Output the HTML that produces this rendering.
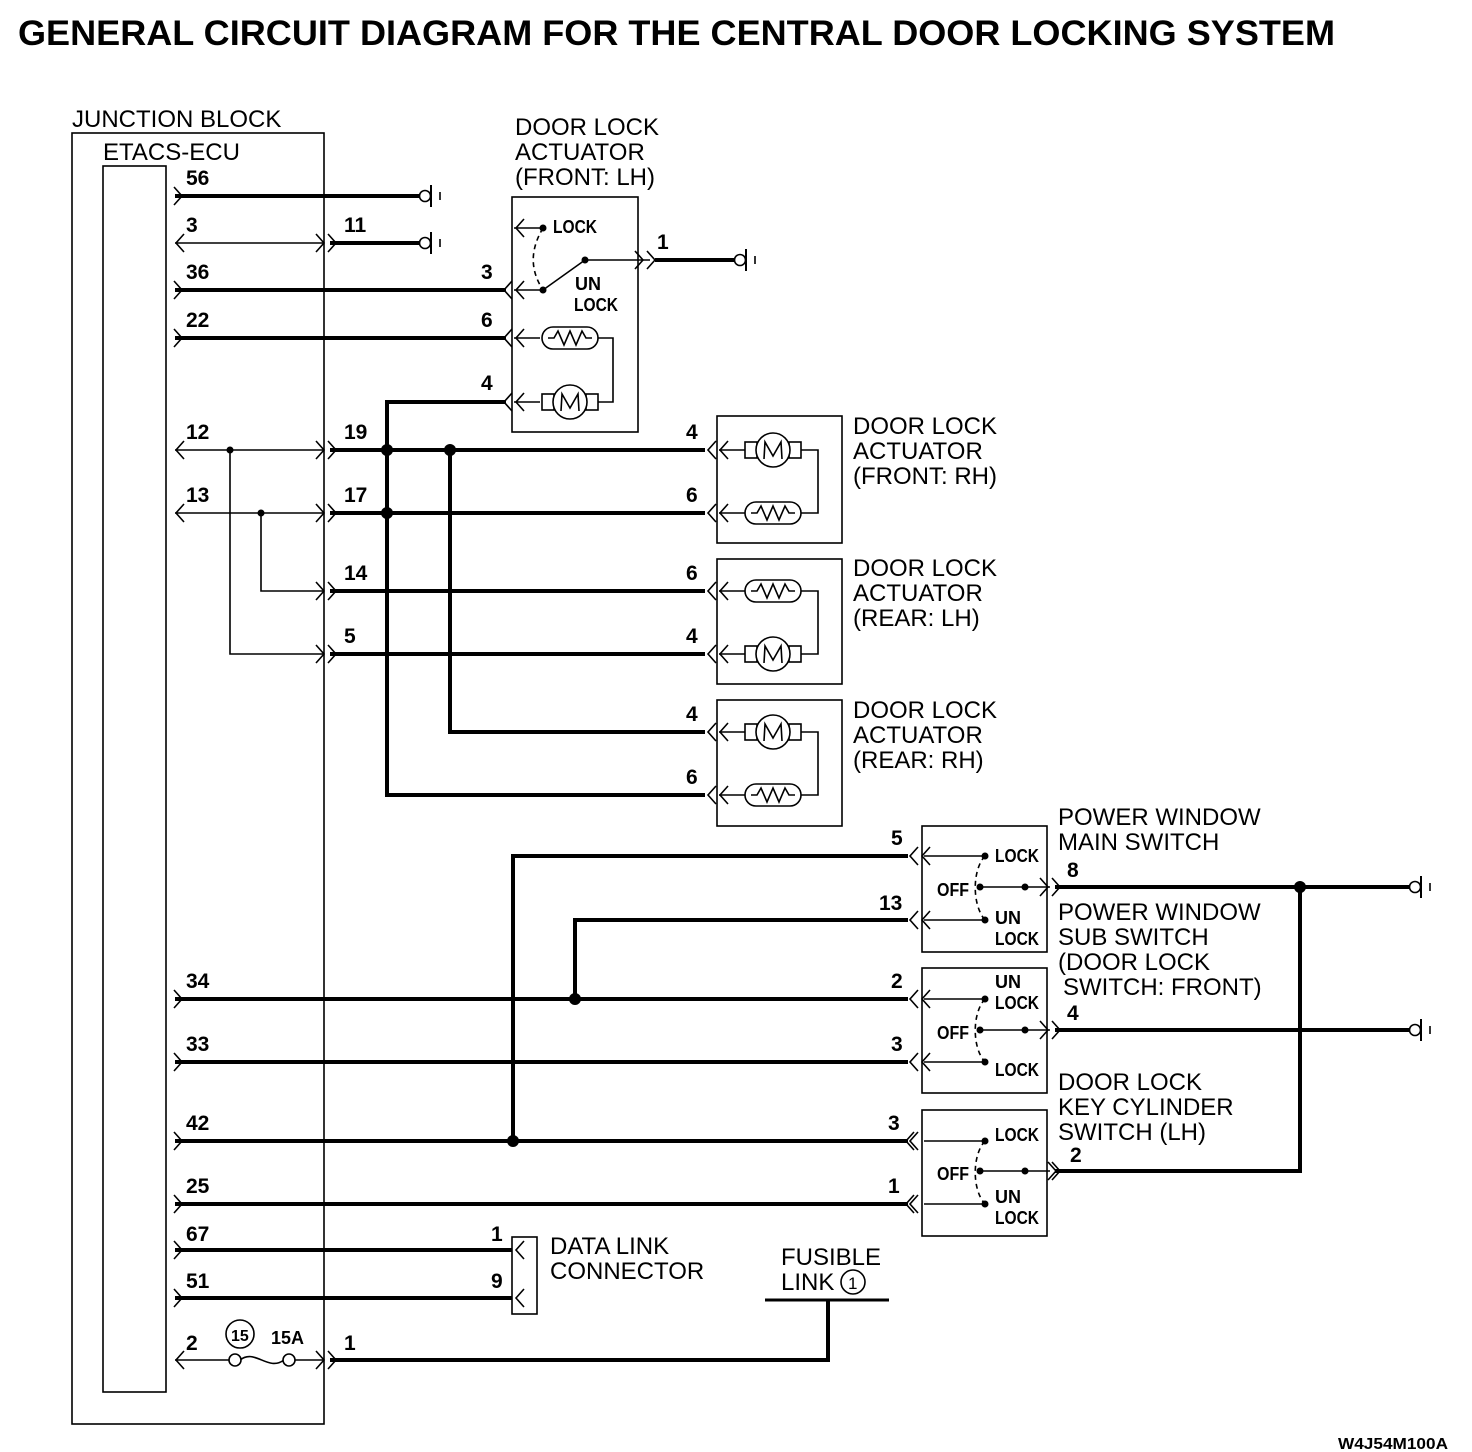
<!DOCTYPE html>
<html><head><meta charset="utf-8"><style>
html,body{margin:0;padding:0;background:#fff}
svg{display:block}
text{font-family:"Liberation Sans",sans-serif;fill:#000}
.t{font-size:24px}
.n{font-size:21px;font-weight:bold}
.s{font-size:18px;font-weight:bold}
</style></head><body>
<svg width="1472" height="1452" viewBox="0 0 1472 1452" xmlns="http://www.w3.org/2000/svg">
<defs>
<path id="m" d="M-6,-9 L2,0 L-6,9" fill="none" stroke="#000" stroke-width="1.6"/>
<path id="f" d="M6,-9 L-2,0 L6,9" fill="none" stroke="#000" stroke-width="1.6"/>
<g id="g" fill="none" stroke="#000" stroke-width="1.6"><circle cx="5" cy="0" r="5.5" fill="#fff"/><line x1="11" y1="-11" x2="11" y2="11" stroke-width="2"/><line x1="20" y1="-4" x2="20" y2="4"/></g>
<g id="mot" fill="none" stroke="#000" stroke-width="1.6"><rect x="0" y="-8" width="12" height="16" fill="#fff"/><rect x="44" y="-8" width="12" height="16" fill="#fff"/><circle cx="28" cy="0" r="17" fill="#fff"/><path d="M19,9 L20,-8 L28,6 L36,-8 L37,9"/></g>
<g id="res" fill="none" stroke="#000" stroke-width="1.6"><rect x="0" y="-11" width="56" height="22" rx="11" fill="#fff"/><path d="M6,0 L12,0 L16,-7 L22,7 L28,-7 L34,7 L40,-7 L44,0 L50,0"/></g>
</defs>
<text x="18" y="45" textLength="1317" lengthAdjust="spacingAndGlyphs" style="font-size:35px;font-weight:bold">GENERAL CIRCUIT DIAGRAM FOR THE CENTRAL DOOR LOCKING SYSTEM</text>
<g fill="none" stroke="#000" stroke-width="1.6">
<rect x="72" y="133" width="252" height="1291"/>
<rect x="103" y="166" width="63" height="1226"/>
<rect x="512" y="197" width="126" height="235"/>
<rect x="717" y="416" width="125" height="127"/>
<rect x="717" y="559" width="125" height="125"/>
<rect x="717" y="700" width="125" height="126"/>
<rect x="922" y="826" width="125" height="126"/>
<rect x="922" y="968" width="125" height="125"/>
<rect x="922" y="1110" width="125" height="126"/>
<rect x="512" y="1237" width="25" height="77"/>
</g>
<text class="t" x="72" y="127">JUNCTION BLOCK</text>
<text class="t" x="103" y="160">ETACS-ECU</text>
<g fill="none" stroke="#000" stroke-width="4">
<path d="M175,196 H420"/>
<path d="M330,243 H420"/>
<path d="M175,290 H506"/>
<path d="M175,338 H506"/>
<path d="M506,402 H387 V795 H705"/>
<path d="M330,450 H705"/>
<path d="M330,513 H705"/>
<path d="M330,591 H705"/>
<path d="M330,654 H705"/>
<path d="M450,450 V732 H705"/>
<path d="M655,260 H735"/>
<path d="M908,856 H513 V1141"/>
<path d="M908,920 H575 V999"/>
<path d="M175,999 H908"/>
<path d="M175,1062 H908"/>
<path d="M175,1141 H908"/>
<path d="M175,1204 H908"/>
<path d="M1055,887 H1420"/>
<path d="M1055,1030 H1420"/>
<path d="M1055,1171 H1300 V887"/>
<path d="M175,1250 H512"/>
<path d="M175,1298 H512"/>
<path d="M330,1360 H828 V1300"/>
<path d="M765,1300 H889" stroke-width="3"/>
</g>
<g fill="none" stroke="#000" stroke-width="1.6">
<path d="M175,243 H324"/>
<path d="M175,450 H324"/>
<path d="M175,513 H324"/>
<path d="M261,513 V591 H324"/>
<path d="M230,450 V654 H324"/>
<path d="M175,1360 H230 M294,1360 H324"/>
<path d="M240,1360 C255,1348 268,1372 284,1360"/>
<path d="M514,228 H543"/>
<path d="M514,290 H543 L585,260 H650"/>
<path d="M543,228 C530,250 530,270 543,290" stroke-dasharray="5,4"/>
<path d="M514,338 H540 M598,338 H613 V402 H598 M514,402 H540"/>
<path d="M719,450 H745 M801,450 H818 V513 H801 M719,513 H745"/>
<path d="M719,591 H745 M801,591 H818 V654 H801 M719,654 H745"/>
<path d="M719,732 H745 M801,732 H818 V795 H801 M719,795 H745"/>
<path d="M924,856 H985 M924,920 H985 M980,887 H1050"/>
<path d="M985,856 C972,870 972,905 985,920" stroke-dasharray="5,4"/>
<path d="M924,999 H985 M924,1062 H985 M980,1030 H1050"/>
<path d="M985,999 C972,1013 972,1048 985,1062" stroke-dasharray="5,4"/>
<path d="M924,1141 H985 M924,1204 H985 M980,1171 H1050"/>
<path d="M985,1141 C972,1155 972,1190 985,1204" stroke-dasharray="5,4"/>
<circle cx="235" cy="1360" r="6" fill="#fff"/>
<circle cx="289" cy="1360" r="6" fill="#fff"/>
<circle cx="240" cy="1334" r="14"/>
<circle cx="853" cy="1282" r="12"/>
</g>
<use href="#res" x="542" y="338"/><use href="#mot" x="542" y="402"/>
<use href="#mot" x="745" y="450"/><use href="#res" x="745" y="513"/>
<use href="#res" x="745" y="591"/><use href="#mot" x="745" y="654"/>
<use href="#mot" x="745" y="732"/><use href="#res" x="745" y="795"/>
<use href="#g" x="420" y="196"/><use href="#g" x="420" y="243"/><use href="#g" x="735" y="260"/>
<use href="#g" x="1410" y="887"/><use href="#g" x="1410" y="1030"/>
<g>
<use href="#m" x="180" y="196"/><use href="#f" x="178" y="243"/><use href="#m" x="322" y="243"/><use href="#m" x="334" y="243"/>
<use href="#m" x="180" y="290"/><use href="#m" x="180" y="338"/>
<use href="#f" x="178" y="450"/><use href="#m" x="322" y="450"/><use href="#m" x="334" y="450"/>
<use href="#f" x="178" y="513"/><use href="#m" x="322" y="513"/><use href="#m" x="334" y="513"/>
<use href="#m" x="322" y="591"/><use href="#m" x="334" y="591"/>
<use href="#m" x="322" y="654"/><use href="#m" x="334" y="654"/>
<use href="#f" x="506" y="290"/><use href="#f" x="518" y="290"/><use href="#f" x="518" y="228"/>
<use href="#f" x="506" y="338"/><use href="#f" x="518" y="338"/>
<use href="#f" x="506" y="402"/><use href="#f" x="518" y="402"/>
<use href="#m" x="641" y="260"/><use href="#m" x="653" y="260"/>
<use href="#f" x="710" y="450"/><use href="#f" x="722" y="450"/><use href="#f" x="710" y="513"/><use href="#f" x="722" y="513"/>
<use href="#f" x="710" y="591"/><use href="#f" x="722" y="591"/><use href="#f" x="710" y="654"/><use href="#f" x="722" y="654"/>
<use href="#f" x="710" y="732"/><use href="#f" x="722" y="732"/><use href="#f" x="710" y="795"/><use href="#f" x="722" y="795"/>
<use href="#f" x="912" y="856"/><use href="#f" x="924" y="856"/><use href="#f" x="912" y="920"/><use href="#f" x="924" y="920"/>
<use href="#f" x="912" y="999"/><use href="#f" x="924" y="999"/><use href="#f" x="912" y="1062"/><use href="#f" x="924" y="1062"/>
<use href="#f" x="908" y="1141"/><use href="#f" x="912" y="1141"/><use href="#f" x="908" y="1204"/><use href="#f" x="912" y="1204"/>
<use href="#m" x="1046" y="887"/><use href="#m" x="1058" y="887"/>
<use href="#m" x="1046" y="1030"/><use href="#m" x="1058" y="1030"/>
<use href="#m" x="1054" y="1171"/><use href="#m" x="1058" y="1171"/>
<use href="#m" x="180" y="999"/><use href="#m" x="180" y="1062"/><use href="#m" x="180" y="1141"/><use href="#m" x="180" y="1204"/>
<use href="#m" x="180" y="1250"/><use href="#m" x="180" y="1298"/>
<use href="#f" x="518" y="1250"/><use href="#f" x="518" y="1298"/>
<use href="#f" x="178" y="1360"/><use href="#m" x="322" y="1360"/><use href="#m" x="334" y="1360"/>
</g>
<g fill="#000">
<circle cx="230" cy="450" r="3.5"/><circle cx="261" cy="513" r="3.5"/>
<circle cx="387" cy="450" r="6"/><circle cx="450" cy="450" r="6"/><circle cx="387" cy="513" r="6"/>
<circle cx="575" cy="999" r="6"/><circle cx="513" cy="1141" r="6"/><circle cx="1300" cy="887" r="6"/>
<circle cx="543" cy="228" r="3.5"/><circle cx="543" cy="290" r="3.5"/><circle cx="585" cy="260" r="3.5"/>
<circle cx="985" cy="856" r="3.5"/><circle cx="985" cy="920" r="3.5"/><circle cx="980" cy="887" r="3.5"/><circle cx="1025" cy="887" r="3.5"/>
<circle cx="985" cy="999" r="3.5"/><circle cx="985" cy="1062" r="3.5"/><circle cx="980" cy="1030" r="3.5"/><circle cx="1025" cy="1030" r="3.5"/>
<circle cx="985" cy="1141" r="3.5"/><circle cx="985" cy="1204" r="3.5"/><circle cx="980" cy="1171" r="3.5"/><circle cx="1025" cy="1171" r="3.5"/>
</g>
<g>
<text class="n" x="186" y="185">56</text><text class="n" x="186" y="232">3</text><text class="n" x="344" y="232">11</text>
<text class="n" x="186" y="279">36</text><text class="n" x="186" y="327">22</text>
<text class="n" x="481" y="279">3</text><text class="n" x="481" y="327">6</text><text class="n" x="481" y="390">4</text><text class="n" x="657" y="249">1</text>
<text class="n" x="186" y="439">12</text><text class="n" x="344" y="439">19</text>
<text class="n" x="186" y="502">13</text><text class="n" x="344" y="502">17</text>
<text class="n" x="344" y="580">14</text><text class="n" x="344" y="643">5</text>
<text class="n" x="686" y="439">4</text><text class="n" x="686" y="502">6</text>
<text class="n" x="686" y="580">6</text><text class="n" x="686" y="643">4</text>
<text class="n" x="686" y="721">4</text><text class="n" x="686" y="784">6</text>
<text class="n" x="891" y="845">5</text><text class="n" x="879" y="910">13</text>
<text class="n" x="891" y="988">2</text><text class="n" x="891" y="1051">3</text>
<text class="n" x="888" y="1130">3</text><text class="n" x="888" y="1193">1</text>
<text class="n" x="1067" y="877">8</text><text class="n" x="1067" y="1020">4</text><text class="n" x="1070" y="1162">2</text>
<text class="n" x="186" y="988">34</text><text class="n" x="186" y="1051">33</text><text class="n" x="186" y="1130">42</text><text class="n" x="186" y="1193">25</text>
<text class="n" x="186" y="1241">67</text><text class="n" x="186" y="1288">51</text>
<text class="n" x="491" y="1241">1</text><text class="n" x="491" y="1288">9</text>
<text class="n" x="186" y="1350">2</text><text class="n" x="344" y="1350">1</text>
<text class="n" x="271" y="1344" style="font-size:18px">15A</text>
<text class="n" x="231" y="1341" style="font-size:16px">15</text>
<text class="n" x="848" y="1289" style="font-size:17px;font-weight:normal">1</text>
</g>
<g>
<text class="s" x="553" y="233" textLength="44" lengthAdjust="spacingAndGlyphs">LOCK</text><text class="s" x="575" y="290">UN</text><text class="s" x="574" y="311" textLength="44" lengthAdjust="spacingAndGlyphs">LOCK</text>
<text class="s" x="995" y="862" textLength="44" lengthAdjust="spacingAndGlyphs">LOCK</text><text class="s" x="937" y="896" textLength="32" lengthAdjust="spacingAndGlyphs">OFF</text><text class="s" x="995" y="924">UN</text><text class="s" x="995" y="945" textLength="44" lengthAdjust="spacingAndGlyphs">LOCK</text>
<text class="s" x="995" y="988">UN</text><text class="s" x="995" y="1009" textLength="44" lengthAdjust="spacingAndGlyphs">LOCK</text><text class="s" x="937" y="1039" textLength="32" lengthAdjust="spacingAndGlyphs">OFF</text><text class="s" x="995" y="1076" textLength="44" lengthAdjust="spacingAndGlyphs">LOCK</text>
<text class="s" x="995" y="1141" textLength="44" lengthAdjust="spacingAndGlyphs">LOCK</text><text class="s" x="937" y="1180" textLength="32" lengthAdjust="spacingAndGlyphs">OFF</text><text class="s" x="995" y="1203">UN</text><text class="s" x="995" y="1224" textLength="44" lengthAdjust="spacingAndGlyphs">LOCK</text>
</g>
<g>
<text class="t" x="515" y="135">DOOR LOCK</text><text class="t" x="515" y="160">ACTUATOR</text><text class="t" x="515" y="185">(FRONT: LH)</text>
<text class="t" x="853" y="434">DOOR LOCK</text><text class="t" x="853" y="459">ACTUATOR</text><text class="t" x="853" y="484">(FRONT: RH)</text>
<text class="t" x="853" y="576">DOOR LOCK</text><text class="t" x="853" y="601">ACTUATOR</text><text class="t" x="853" y="626">(REAR: LH)</text>
<text class="t" x="853" y="718">DOOR LOCK</text><text class="t" x="853" y="743">ACTUATOR</text><text class="t" x="853" y="768">(REAR: RH)</text>
<text class="t" x="1058" y="825">POWER WINDOW</text><text class="t" x="1058" y="850">MAIN SWITCH</text>
<text class="t" x="1058" y="920">POWER WINDOW</text><text class="t" x="1058" y="945">SUB SWITCH</text><text class="t" x="1058" y="970">(DOOR LOCK</text><text class="t" x="1063" y="995">SWITCH: FRONT)</text>
<text class="t" x="1058" y="1090">DOOR LOCK</text><text class="t" x="1058" y="1115">KEY CYLINDER</text><text class="t" x="1058" y="1140">SWITCH (LH)</text>
<text class="t" x="550" y="1254">DATA LINK</text><text class="t" x="550" y="1279">CONNECTOR</text>
<text class="t" x="781" y="1265">FUSIBLE</text><text class="t" x="781" y="1290">LINK</text>
</g>
<text x="1338" y="1449" textLength="110" lengthAdjust="spacingAndGlyphs" style="font-size:16px;font-weight:bold">W4J54M100A</text>
</svg>
</body></html>
